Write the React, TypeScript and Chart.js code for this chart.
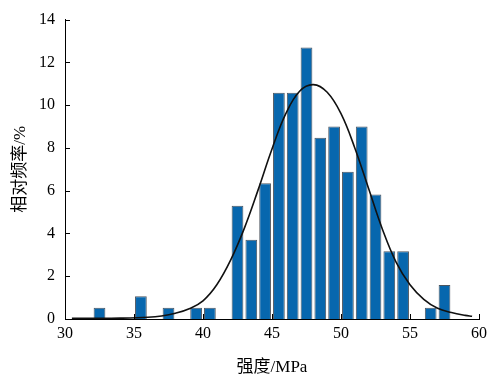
import React, { useEffect, useRef } from "react";
import { Chart, registerables } from "chart.js";

Chart.register(...registerables);

// Histogram bins (bin centre, MPa) and relative frequency (%)
const binCenters = [32.5, 35.5, 37.5, 39.5, 40.5, 42.5, 43.5, 44.5, 45.5, 46.5, 47.5, 48.5, 49.5, 50.5, 51.5, 52.5, 53.5, 54.5, 56.5, 57.5];
const frequencies = [0.53, 1.06, 0.53, 0.53, 0.53, 5.29, 3.7, 6.35, 10.58, 10.58, 12.7, 8.47, 9.0, 6.88, 9.0, 5.82, 3.17, 3.17, 0.53, 1.59];

// Fitted curve
const curveX = [30.5, 32, 34, 36, 37, 38, 39, 40, 41, 42, 43, 44, 45, 46, 47, 48, 49, 50, 51, 52, 53, 54, 55, 56, 57, 58, 59, 59.5];
const curveY = [0.03, 0.03, 0.04, 0.08, 0.14, 0.27, 0.48, 0.85, 1.6, 2.75, 4.25, 6.05, 7.95, 9.6, 10.65, 10.96, 10.6, 9.6, 8.0, 6.1, 4.2, 2.65, 1.6, 0.92, 0.5, 0.3, 0.17, 0.13];

const xTicks = [30, 35, 40, 45, 50, 55, 60];
const yTicks = [0, 2, 4, 6, 8, 10, 12, 14];

const xTitle = "强度/MPa";
const yTitle = "相对频率/%";

const FONT = '"Liberation Serif", "Noto Sans CJK SC", serif';

const inwardTicks = {
  id: "inwardTicks",
  afterDatasetsDraw(chart: any) {
    const { ctx, scales, chartArea } = chart;
    const xs = scales.x;
    const ys = scales.y;
    ctx.save();
    ctx.strokeStyle = "#000";
    ctx.lineWidth = 1;
    ctx.beginPath();
    for (const v of xTicks) {
      const px = Math.round(xs.getPixelForValue(v)) + 0.5;
      ctx.moveTo(px, chartArea.bottom);
      ctx.lineTo(px, chartArea.bottom - 5);
    }
    for (const v of yTicks) {
      const py = Math.round(ys.getPixelForValue(v)) + 0.5;
      ctx.moveTo(chartArea.left, py);
      ctx.lineTo(chartArea.left + 5, py);
    }
    ctx.stroke();
    ctx.restore();
  },
};

export default function App() {
  const ref = useRef<HTMLCanvasElement | null>(null);

  useEffect(() => {
    if (!ref.current) return;
    const chart = new Chart(ref.current, {
      type: "bar",
      data: {
        datasets: [
          {
            type: "line",
            data: curveX.map((x, i) => ({ x, y: curveY[i] })),
            borderColor: "#111",
            borderWidth: 1.6,
            pointRadius: 0,
            tension: 0.4,
            fill: false,
            order: 0,
          } as any,
          {
            type: "bar",
            data: binCenters.map((x, i) => ({ x, y: frequencies[i] })),
            backgroundColor: "#0767AE",
            borderColor: "#4d5660",
            borderWidth: 1,
            barPercentage: 0.85,
            categoryPercentage: 1,
            order: 1,
          } as any,
        ],
      },
      options: {
        animation: false,
        responsive: false,
        maintainAspectRatio: false,
        layout: { padding: { top: 14, right: 13, left: 0, bottom: 0 } },
        plugins: { legend: { display: false }, tooltip: { enabled: false } },
        scales: {
          x: {
            type: "linear",
            min: 30,
            max: 60,
            offset: false,
            afterFit: (s: any) => {
              s.height = 63;
            },
            afterBuildTicks: (s: any) => {
              s.ticks = xTicks.map((v) => ({ value: v }));
            },
            grid: { display: false, drawTicks: false },
            border: { display: true, color: "#000", width: 1 },
            ticks: { color: "#000", padding: 5, font: { family: FONT, size: 16 }, maxRotation: 0 },
            title: {
              display: true,
              text: xTitle,
              color: "#000",
              font: { family: FONT, size: 17 },
              padding: { top: 4, bottom: 4 },
            },
          },
          y: {
            min: 0,
            max: 14,
            afterFit: (s: any) => {
              s.width = 65;
            },
            afterBuildTicks: (s: any) => {
              s.ticks = yTicks.map((v) => ({ value: v }));
            },
            grid: { display: false, drawTicks: false },
            border: { display: true, color: "#000", width: 1 },
            ticks: { color: "#000", padding: 10, font: { family: FONT, size: 16 } },
            title: {
              display: true,
              text: yTitle,
              color: "#000",
              font: { family: FONT, size: 17 },
              padding: { top: 10, bottom: 4 },
            },
          },
        },
      },
      plugins: [inwardTicks],
    });
    return () => chart.destroy();
  }, []);

  return (
    <div style={{ position: "fixed", left: 0, top: 0, width: 492, height: 382, background: "#fff" }}>
      <canvas ref={ref} width={492} height={382} style={{ width: 492, height: 382 }} />
    </div>
  );
}
